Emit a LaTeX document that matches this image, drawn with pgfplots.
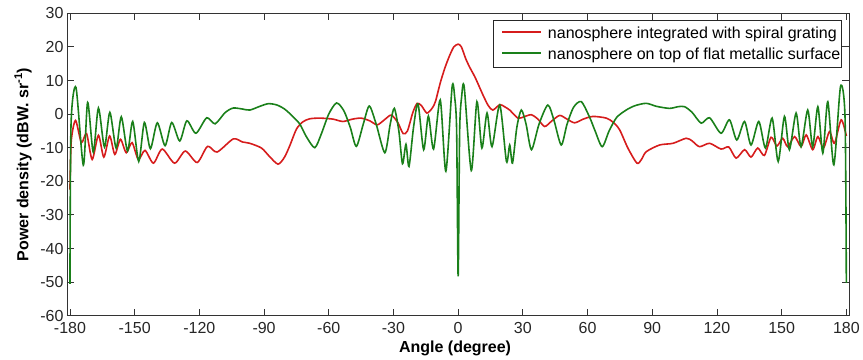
\documentclass[border=0pt]{standalone}
\usepackage{fontspec}
\setmainfont{Liberation Sans}
\usepackage{pgfplots}
\pgfplotsset{compat=1.18}
\usetikzlibrary{calc}
\definecolor{cred}{RGB}{214,28,28}
\definecolor{cgreen}{RGB}{26,128,26}
\begin{document}
\begin{tikzpicture}
\begin{axis}[
 name=ax,
 scale only axis,
 width=782.7pt, height=302.7pt,
 xmin=-181.4, xmax=181.2, ymin=-60, ymax=30,
 xtick={-180,-150,...,180},
 xticklabels={-180,-150,-120,-90,-60,-30,0,30,60,90,120,150,180},
 ytick={-60,-50,...,30},
 yticklabels={-60,-50,-40,-30,-20,-10,0,10,20,30},
 tick align=inside,
 major tick length=7pt,
 axis line style={black!80, line width=0.8pt},
 every tick/.style={black!80, line width=0.8pt},
 tick label style={font=\fontsize{16}{19}\selectfont, text=black!85, text depth=0pt},
 xticklabel style={inner ysep=0pt, yshift=-6.8pt},
 yticklabel style={inner ysep=0pt},
 xlabel={\textbf{Angle (degree)}},
 ylabel={\textbf{Power density (dBW. sr\textsuperscript{-1})}},
 label style={font=\fontsize{16}{19}\selectfont},
 xlabel style={at={(axis description cs:0.4964,-0.1229)}, anchor=base},
 ylabel style={at={(axis description cs:-0.0494,0.5)}, anchor=base},
]
\addplot[color=cred, line width=1.6pt, smooth, tension=0.45] coordinates {
(-180,-22.5) (-179.4,-8) (-177.4,-1.9) (-174.7,-8.5) (-172.3,-5.8) (-169.7,-13.5)
(-166.8,-6.3) (-164.3,-12.8) (-161.6,-6.5) (-159.2,-12) (-156.6,-7.5) (-153.9,-11.5)
(-151.2,-8.5) (-148.3,-13.5) (-145.2,-10.8) (-141.3,-14.6) (-137.2,-10.4) (-131.5,-14.6)
(-126.5,-11.0) (-121,-14.4) (-116.2,-9.6) (-111.8,-11.3) (-104.3,-7.4) (-100,-8.3)
(-96.6,-8.7) (-91.2,-10.1) (-87.5,-12.6) (-83.5,-14.9) (-80.5,-12.8) (-78,-9.3)
(-75,-4.5) (-72,-2.3) (-68.8,-1.4) (-64,-1.2) (-58,-1.5) (-53.5,-2.2) (-49,-1.5)
(-45,-1.2) (-41,-2) (-37.5,-3.2) (-34,-1.6) (-31,-0.3) (-28,-2.5) (-25.5,-5.8)
(-23.5,-5) (-21,0.5) (-19,3.2) (-17,2.5) (-14.5,0.3) (-12,1.8) (-10.5,3.8)
(-8.2,9.5) (-6,14) (-3.9,17.5) (-2,20) (0,20.8) (1.5,20) (3.5,16.5) (5.3,14) (7,12)
(8.4,10.2) (11.5,5.7) (14,2.5) (16.1,1.2) (19.3,2.8) (21.5,2.2) (23.9,1.2) (27.7,-1.2)
(30.5,-0.8) (33.9,-0.2) (37,-1.5) (40.1,-3.7) (43.5,-2) (47.1,-0.4) (50.5,-1.5)
(54,-2.6) (58,-1.5) (62.5,-0.7) (68.7,-1.2) (72,-2.5) (74.9,-4.7) (78.7,-10.1)
(82.9,-14.6) (85,-13.5) (87.2,-11.2) (93.4,-9.2) (99.6,-8.7) (105.7,-7.2) (108.5,-8)
(111.9,-9.7) (116.6,-8.7) (121.9,-10.4) (125.5,-9.8) (128.9,-13.1) (132.8,-10.6)
(135.8,-12.8) (138.9,-10.1) (142,-12.3) (145.1,-6.9) (147.8,-9.5) (150.5,-7.2)
(152.8,-9.7) (156,-6.7) (159,-9.7) (161.4,-6.2) (164.4,-10.6) (166.8,-6.7)
(169.4,-10.1) (172.2,-5.2) (174.5,-8.7) (177.6,-1.7) (180,-6.5)
};
\addplot[color=cgreen, line width=1.6pt, smooth, tension=0.45] coordinates {
(-180,-50.5) (-179.5,-3) (-177.2,7.9) (-173.8,-15.2) (-171.8,3.5) (-169.2,-11.3)
(-166.8,1.8) (-164.0,-9.8) (-161.5,0.5) (-158.6,-10.1) (-156.2,-0.8) (-153.3,-11.0)
(-150.9,-2.2) (-148.1,-14.1) (-145.5,-2.5) (-142.7,-10.3) (-139.5,-2.6) (-135.9,-9.4)
(-132.8,-2.5) (-129.1,-8.0) (-125.8,-2.0) (-121.6,-5.7) (-116.6,-1.1) (-112.7,-2.9)
(-108,0.5) (-104.3,1.8) (-100,1.5) (-96.6,1.2) (-92,2.3) (-88,3.1) (-84,2.7)
(-80.5,1.5) (-77,-0.5) (-73.4,-3) (-70.4,-6.7) (-66.5,-10.0) (-63.5,-6) (-60,0)
(-56.4,3.3) (-53,1) (-50,-4) (-47.2,-9.6) (-44,-3) (-41.2,2.4) (-38,-3) (-34,-11.5)
(-31.5,-3) (-29.6,1.7) (-27.5,-5) (-25.8,-14.8) (-24.2,-9.0) (-22.8,-15.6)
(-20.7,-4) (-18.6,3.0) (-16,-10.6) (-13.8,-0.6) (-11.4,-10.4) (-8.3,4.2) (-5.7,-17)
(-2.8,8.1) (-1.6,5) (-0.7,-5) (0,-48.3) (0.7,-5) (1.6,5) (2.8,8.1) (6.1,-16.8)
(8.7,3.7) (11,-10.1) (13.4,0.3) (15.7,-9.7) (19.3,2.7) (22.4,-14.1) (23.9,-9.2)
(25.2,-14.6) (27.2,-4) (29.3,1.2) (31.5,-3) (34,-10.6) (37.5,-3) (41.6,2.7)
(44.5,-2) (47.8,-9.2) (50.5,-3) (53.5,2) (57.1,3.7) (61,-1) (63.5,-5) (66.8,-9.7)
(70,-5) (73.5,-1) (77.9,1.2) (82,2.5) (87.2,3.2) (92,2.3) (98,1.7) (102,2.2)
(105,2.2) (108.5,0.5) (112.7,-2.7) (116.6,-1.1) (121.9,-5.7) (125.8,-1.7)
(129.2,-7.7) (132.8,-2.2) (135.8,-9.2) (139.4,-2.2) (142.5,-10.1) (145.6,-1.2)
(148.4,-14.1) (151.3,-0.7) (153.6,-10.6) (156.7,0.3) (159.0,-9.7) (162.1,1.2)
(164.4,-9.7) (166.8,2.2) (169.1,-11.6) (171.4,3.7) (174.2,-15.1) (177.3,8.2)
(179.4,-1) (180,-50.2)
};
% legend (frame, sample lines and entries)
\draw[black!85, line width=0.8pt, fill=white] (rel axis cs:0.5459,0.8203) rectangle (rel axis cs:0.9905,0.9756);
\draw[cred, line width=1.6pt] (rel axis cs:0.5567,0.9372) -- (rel axis cs:0.6065,0.9372);
\draw[cgreen, line width=1.6pt] (rel axis cs:0.5567,0.8679) -- (rel axis cs:0.6065,0.8679);
\node[anchor=base west, inner sep=0pt, font=\fontsize{16}{19}\selectfont] at (rel axis cs:0.6149,0.9174) {nanosphere integrated with spiral grating};
\node[anchor=base west, inner sep=0pt, font=\fontsize{16}{19}\selectfont] at (rel axis cs:0.6149,0.8457) {nanosphere on top of flat metallic surface};
\end{axis}
\path ($(ax.south west)+(-67pt,-44pt)$) rectangle ($(ax.north east)+(13.3pt,13.3pt)$);
\end{tikzpicture}
\end{document}
